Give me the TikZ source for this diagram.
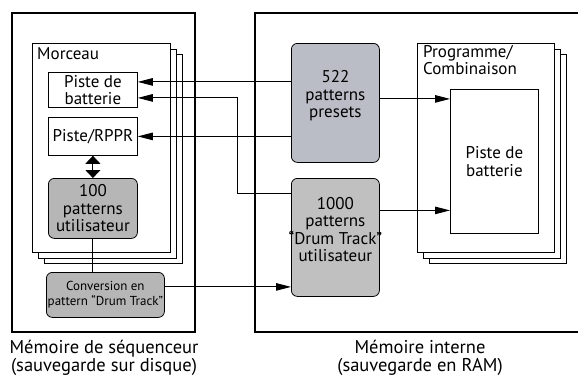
\documentclass[tikz,border=0pt]{standalone}
\usepackage{fontspec}
\setmainfont{PT Sans}
\usetikzlibrary{arrows.meta,positioning}
\definecolor{presetgray}{RGB}{186,189,197}
\definecolor{usergray}{RGB}{192,192,192}

\tikzset{
  frame/.style={draw, line width=1.3pt},
  sheet/.style={draw, fill=white, line width=0.7pt},
  card/.style={draw, fill=white, line width=0.8pt, inner sep=0pt, align=center},
  pool/.style={draw, line width=0.8pt, rounded corners=6pt, inner sep=0pt, align=center},
  link/.style={line width=0.9pt, -{Triangle[length=15pt,width=7.5pt]}},
  wire/.style={line width=0.9pt}
}

\begin{document}
\begin{tikzpicture}[x=1pt, y=-1pt, font=\fontsize{17}{17.5}\selectfont]
    \useasboundingbox (0,0) rectangle (578,376);

    % two memory areas
    \draw[frame] (12,13) rectangle (195,332);
    \draw[frame] (255,13) rectangle (590,332);

    % Morceau stack
    \draw[sheet] (44,54) rectangle (182,263);
    \draw[sheet] (38,49) rectangle (176,258);
    \draw[sheet] (32,43) rectangle (170,252);
    \node[anchor=west, inner sep=0pt] at (37,54) {Morceau};

    % Programme/Combinaison stack
    \draw[sheet] (429,54) rectangle (566,263);
    \draw[sheet] (423,49) rectangle (560,258);
    \draw[sheet] (417,43) rectangle (554,252);
    \node[anchor=north west, align=left, inner sep=0pt] at (423,45) {Programme/\\Combinaison};

    % tracks in the song
    \node[card, anchor=north west, minimum width=89pt, minimum height=35pt]
        (drum) at (48,72) {Piste de\\batterie};
    \node[card, anchor=north west, minimum width=89pt, minimum height=38pt]
        (rppr) at (48,117) {Piste/RPPR};
    \node[pool, fill=usergray!95!black, anchor=north west, minimum width=89pt, minimum height=60pt]
        (upat) at (48,178) {100\\patterns\\utilisateur};
    \node[pool, fill=usergray!95!black, anchor=north west, minimum width=118pt, minimum height=45pt,
          font=\fontsize{13}{14.5}\selectfont]
        (conv) at (46,272) {Conversion en\\pattern ``Drum Track''};

    % pattern pools in RAM
    \node[pool, fill=presetgray, anchor=north west, minimum width=88pt, minimum height=119pt]
        (preset) at (291,43) {};
    \node[align=center] at ([yshift=7pt]preset.center) {522\\patterns\\presets};
    \node[pool, fill=usergray, anchor=north west, minimum width=88pt, minimum height=118pt]
        (user) at (291,178) {};
    \node[align=center] at ([yshift=8pt]user.center) {1000\\patterns\\``Drum Track''\\utilisateur};

    % drum track in the program
    \node[card, anchor=north west, minimum width=88pt, minimum height=144pt]
        (pbat) at (450,89) {Piste de\\batterie};

    \coordinate (bend) at (237,0);

    % connectors
    \draw[link] ([yshift=8pt]preset.west |- drum.east) -- ([yshift=8pt]drum.east);
    \draw[link] (preset.west |- rppr.east) -- (rppr.east);
    \draw[link] ([yshift=44pt]user.west) -- ([yshift=44pt]user.west -| bend)
        |- ([yshift=-8pt]drum.east);
    \draw[link] ([yshift=4pt]preset.east) -- ([yshift=4pt]preset.east -| pbat.west);
    \draw[link] ([yshift=27pt]user.east) -- ([yshift=27pt]user.east -| pbat.west);
    \draw[link] ([yshift=8pt]conv.east) -- ([yshift=8pt]conv.east -| user.west);
    \draw[wire] (upat.south) -- (upat.south |- conv.north);
    \draw[line width=0.9pt, {Triangle[length=8pt,width=15pt]}-{Triangle[length=8pt,width=15pt]}]
        (rppr.south) -- (upat.north);

    % captions
    \node[font=\fontsize{18.5}{18}\selectfont, align=center] at (104,358) {Mémoire de séquenceur\\(sauvegarde sur disque)};
    \node[font=\fontsize{18.5}{18}\selectfont, align=center] at (420,358) {Mémoire interne\\(sauvegarde en RAM)};
\end{tikzpicture}
\end{document}
